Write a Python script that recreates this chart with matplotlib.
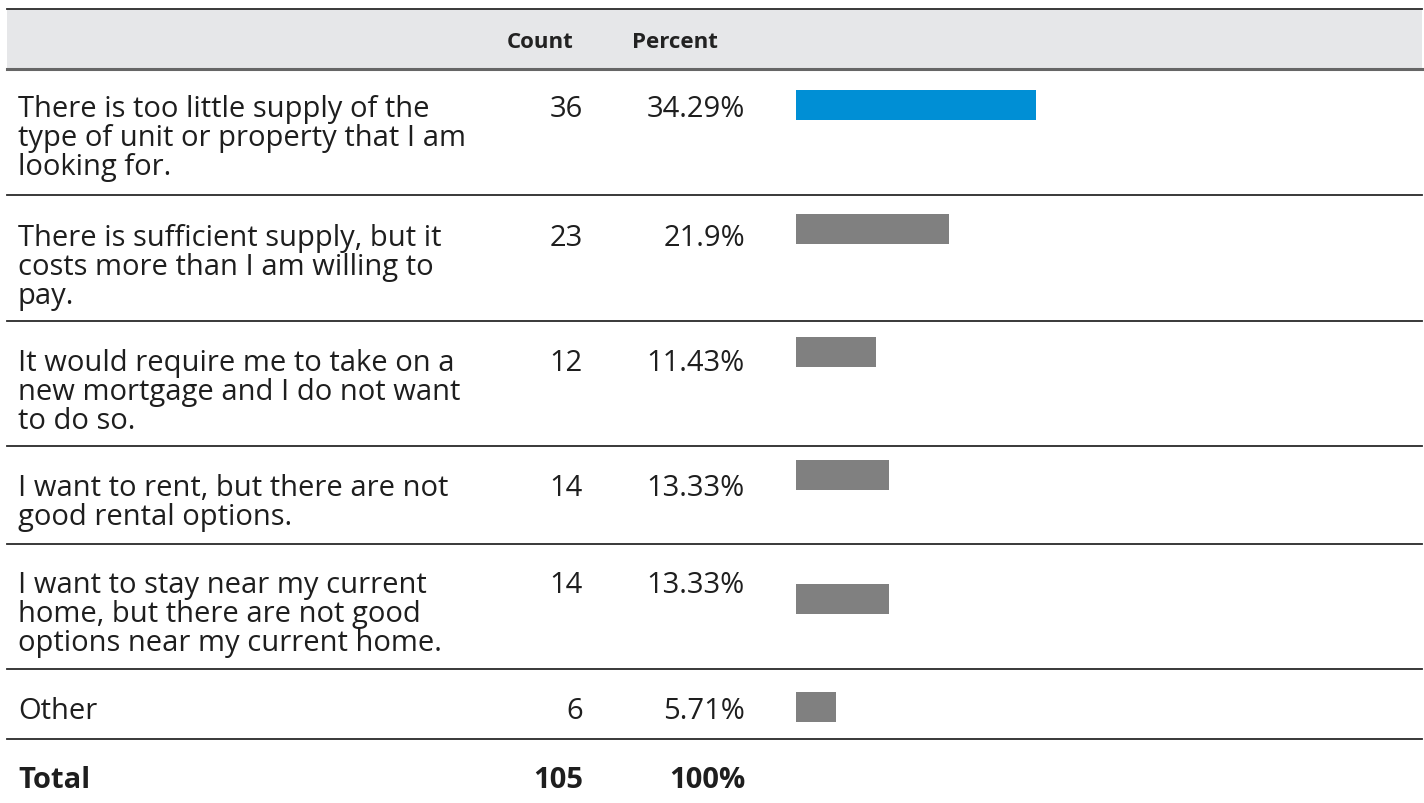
import matplotlib
matplotlib.use('Agg')
import matplotlib.pyplot as plt

plt.rcParams['font.family'] = ['Open Sans', 'DejaVu Sans']

# data
labels = [
    'There is too little supply of the\ntype of unit or property that I am\nlooking for.',
    'There is sufficient supply, but it\ncosts more than I am willing to\npay.',
    'It would require me to take on a\nnew mortgage and I do not want\nto do so.',
    'I want to rent, but there are not\ngood rental options.',
    'I want to stay near my current\nhome, but there are not good\noptions near my current home.',
    'Other',
]
counts = [36, 23, 12, 14, 14, 6]
percents = [34.29, 21.9, 11.43, 13.33, 13.33, 5.71]
pct_labels = ['34.29%', '21.9%', '11.43%', '13.33%', '13.33%', '5.71%']
total_count = 105
total_pct = '100%'

# layout in pixels (figure is 1424 x 804)
W, H = 1424, 804
x0, x1 = 7, 1422
row_lines = [70, 196, 322, 447, 545, 670, 740]
cap_top = [98, 227, 352, 477, 574, 700]   # top of first text line in each row
total_top = 769
bar_y = [106, 230, 353, 476, 600, 708]    # bar centres
bar_h = 30
bar_x0 = 796
px_per_pct = 7.0

fig = plt.figure(figsize=(W / 100, H / 100), dpi=100)
ax = fig.add_axes([0, 0, 1, 1])
ax.set_xlim(0, W)
ax.set_ylim(H, 0)
ax.axis('off')

# header
ax.fill_between([x0, x1], 10, 70, color='#e6e7e9', lw=0)
ax.plot([x0, x1], [10, 10], color='#2a2a2a', lw=1.3)
ax.plot([x0, x1], [70, 70], color='#666666', lw=2.2)
ax.text(540, 42, 'Count', ha='center', va='center', fontsize=16, fontweight='bold', color='#222222')
ax.text(675, 42, 'Percent', ha='center', va='center', fontsize=16, fontweight='bold', color='#222222')

for y in row_lines[1:]:
    ax.plot([x0, x1], [y, y], color='#2a2a2a', lw=1.3)

fs = 21
for i in range(len(labels)):
    ty = cap_top[i] - 3
    ax.text(18, ty, labels[i], ha='left', va='top', fontsize=fs, color='#1e1e1e', linespacing=1.01)
    ax.text(583, ty, str(counts[i]), ha='right', va='top', fontsize=fs, color='#1e1e1e')
    ax.text(745, ty, pct_labels[i], ha='right', va='top', fontsize=fs, color='#1e1e1e')

ty = total_top - 3
ax.text(18, ty, 'Total', ha='left', va='top', fontsize=fs, fontweight='bold', color='#1e1e1e')
ax.text(583, ty, str(total_count), ha='right', va='top', fontsize=fs, fontweight='bold', color='#1e1e1e')
ax.text(745, ty, total_pct, ha='right', va='top', fontsize=fs, fontweight='bold', color='#1e1e1e')

# bars on their own axes, x in percent
bax = fig.add_axes([bar_x0 / W, 0, (x1 - bar_x0) / W, 1])
bax.set_xlim(0, (x1 - bar_x0) / px_per_pct)
bax.set_ylim(H, 0)
bax.axis('off')
colors = ['#008fd5'] + ['#808080'] * (len(percents) - 1)
bax.barh(bar_y, percents, height=bar_h, color=colors, left=0)

fig.savefig('out.png', dpi=100, facecolor='white')
